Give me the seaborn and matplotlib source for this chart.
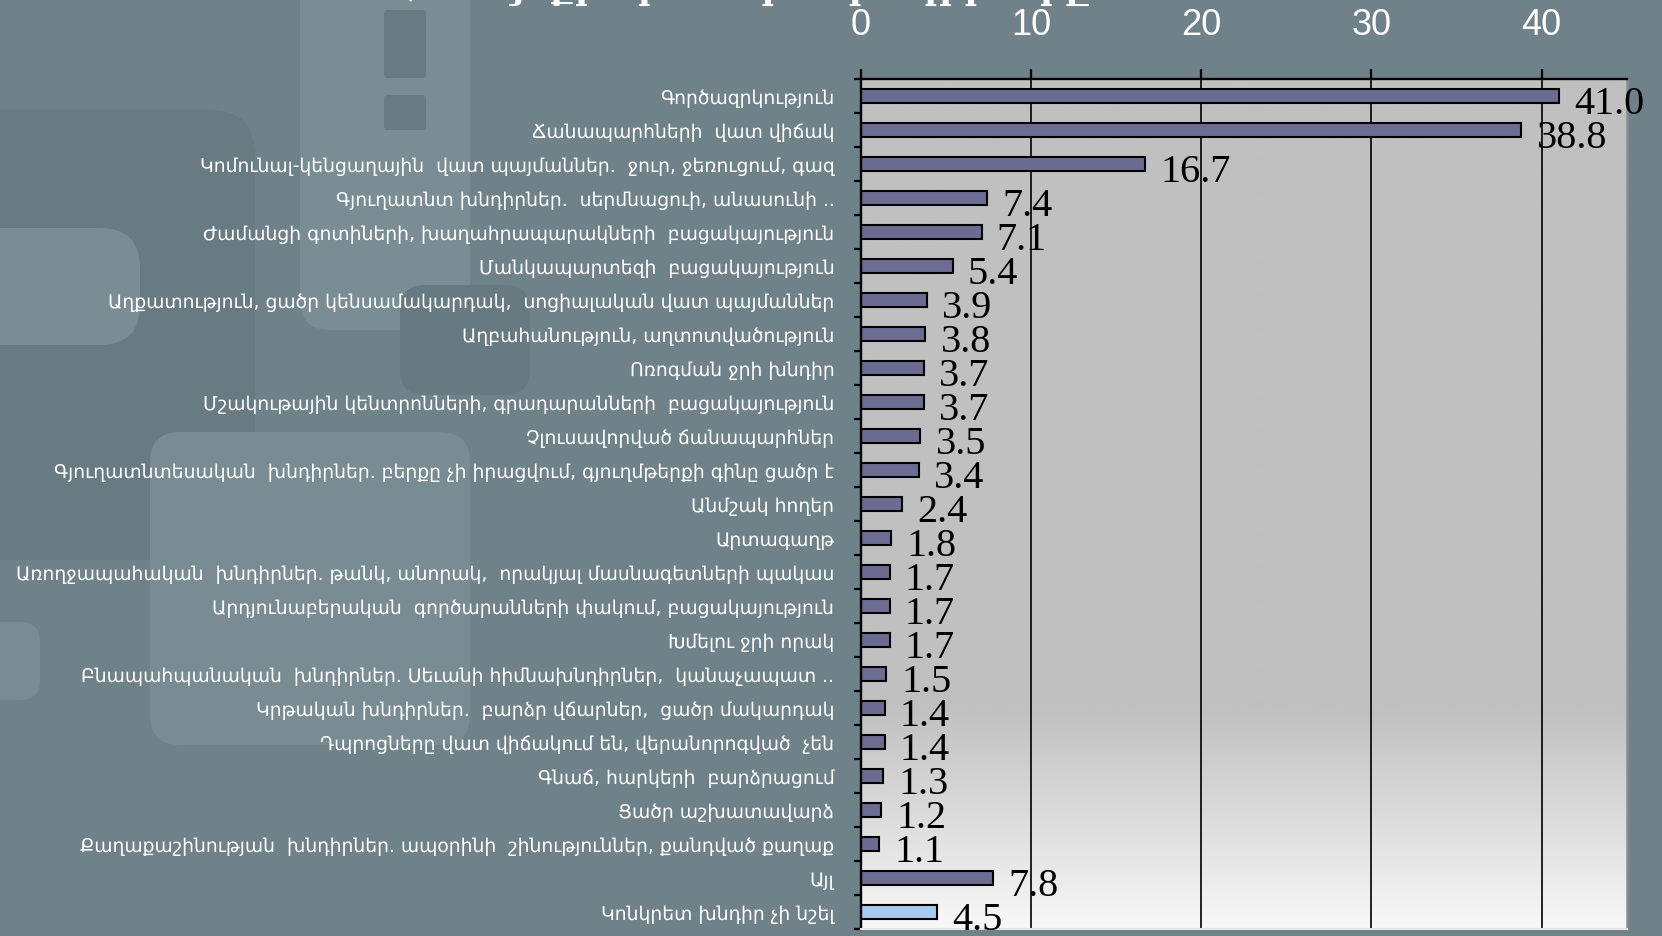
import numpy as np
import pandas as pd
import matplotlib
matplotlib.use("Agg")
import matplotlib.pyplot as plt
import seaborn as sns
from matplotlib.patches import FancyBboxPatch
from matplotlib.transforms import IdentityTransform

# data (percent)
categories = [
    "Գործազրկություն",
    "Ճանապարհների  վատ վիճակ",
    "Կոմունալ-կենցաղային  վատ պայմաններ.  ջուր, ջեռուցում, գազ",
    "Գյուղատնտ խնդիրներ.  սերմնացուի, անասունի ..",
    "Ժամանցի գոտիների, խաղահրապարակների  բացակայություն",
    "Մանկապարտեզի  բացակայություն",
    "Աղքատություն, ցածր կենսամակարդակ,  սոցիալական վատ պայմաններ",
    "Աղբահանություն, աղտոտվածություն",
    "Ոռոգման ջրի խնդիր",
    "Մշակութային կենտրոնների, գրադարանների  բացակայություն",
    "Չլուսավորված ճանապարհներ",
    "Գյուղատնտեսական  խնդիրներ. բերքը չի իրացվում, գյուղմթերքի գինը ցածր է",
    "Անմշակ հողեր",
    "Արտագաղթ",
    "Առողջապահական  խնդիրներ. թանկ, անորակ,  որակյալ մասնագետների պակաս",
    "Արդյունաբերական  գործարանների փակում, բացակայություն",
    "Խմելու ջրի որակ",
    "Բնապահպանական  խնդիրներ. Սեւանի հիմնախնդիրներ,  կանաչապատ ..",
    "Կրթական խնդիրներ.  բարձր վճարներ,  ցածր մակարդակ",
    "Դպրոցները վատ վիճակում են, վերանորոգված  չեն",
    "Գնաճ, հարկերի  բարձրացում",
    "Ցածր աշխատավարձ",
    "Քաղաքաշինության  խնդիրներ. ապօրինի  շինություններ, քանդված քաղաք",
    "Այլ",
    "Կոնկրետ խնդիր չի նշել",
]
values = [41.0, 38.8, 16.7, 7.4, 7.1, 5.4, 3.9, 3.8, 3.7, 3.7, 3.5, 3.4, 2.4,
          1.8, 1.7, 1.7, 1.7, 1.5, 1.4, 1.4, 1.3, 1.2, 1.1, 7.8, 4.5]
bar_colors = ["#666699"] * 24 + ["#99CCFF"]
xticks = [0, 10, 20, 30, 40]
title = "Համայնքի հիմնական խնդիրները"

df = pd.DataFrame({"problem": categories, "pct": values})

sns.set_style("white")
plt.rcParams["font.family"] = ["DejaVu Sans"]

W, H = 1662, 936
bg = "#6f8189"
fig = plt.figure(figsize=(W / 100, H / 100), dpi=100, facecolor=bg)


# background decoration (soft rounded blocks), pixel coords from top-left
def blob(x0, y0, x1, y1, color, r=30):
    p = FancyBboxPatch((x0, H - y1), x1 - x0, y1 - y0,
                       boxstyle=f"round,pad=0,rounding_size={r}",
                       transform=IdentityTransform(), facecolor=color,
                       edgecolor="none", zorder=-10)
    fig.add_artist(p)


blob(-60, 110, 255, 560, "#687a82", 45)
blob(300, -60, 470, 330, "#7a8c94", 30)
blob(384, 10, 426, 78, "#687a82", 4)
blob(384, 95, 426, 130, "#687a82", 4)
blob(-40, 228, 140, 345, "#7a8c94", 40)
blob(400, 285, 530, 395, "#677981", 25)
blob(150, 432, 470, 745, "#798b93", 30)
blob(-40, 622, 40, 700, "#798b93", 20)

# title, almost entirely cut off by the top edge
fig.text(0.445, 1 + 1 / H, title, ha="center", va="baseline", fontsize=25,
         fontweight="bold", color="white", family=["DejaVu Serif", "DejaVu Sans"])

ax = fig.add_axes([860.7 / W, 1 - 929.3 / H, (1626.7 - 860.7) / W, (929.3 - 79.3) / H])

# plot area gradient: flat grey, fading to white near the bottom
n = 400
t = np.linspace(0, 1, n)
k = np.clip((t - 0.74) / 0.26, 0, 1)
top_c = np.array([192, 192, 192]) / 255
bot_c = np.array([248, 248, 248]) / 255
grad = top_c + (bot_c - top_c) * k[:, None]
ax.imshow(grad[:, None, :], extent=[0, 45, len(values) - 0.5, -0.5],
          aspect="auto", zorder=0, interpolation="bilinear")

sns.barplot(data=df, x="pct", y="problem", hue="problem", palette=bar_colors,
            legend=False, width=0.42, edgecolor="black", linewidth=1.5,
            errorbar=None, orient="h", ax=ax, zorder=2)

ax.set_xlim(0, 45)
ax.set_ylim(len(values) - 0.5, -0.5)
ax.set_xlabel("")
ax.set_ylabel("")

# top axis
ax.xaxis.tick_top()
ax.set_xticks(xticks)
ax.set_xticklabels([str(v) for v in xticks], family="Liberation Sans")
ax.tick_params(axis="x", which="major", direction="out", length=7, width=1.6,
               color="black", labelcolor="white", labelsize=26, pad=19)
ax.grid(axis="x", color="black", linewidth=1.2)
ax.grid(axis="y", visible=False)
ax.set_axisbelow(True)

# category axis: labels on bars, ticks between categories
ax.set_yticks(range(len(categories)))
ax.set_yticklabels(categories)
ax.set_yticks(np.arange(-0.5, len(categories), 1), minor=True)
ax.tick_params(axis="y", which="major", length=0, pad=19, labelcolor="white",
               labelsize=13.5)
ax.tick_params(axis="y", which="minor", left=True, length=5, width=1.6,
               color="black", direction="out")

for side in ["left", "top"]:
    ax.spines[side].set_color("black")
    ax.spines[side].set_linewidth(1.7)
ax.spines["right"].set_color("#8c8c8c")
ax.spines["right"].set_linewidth(1.8)
ax.spines["bottom"].set_color("#e6e6e6")
ax.spines["bottom"].set_linewidth(1.5)

# value labels
for i, v in enumerate(values):
    ax.annotate(f"{v:.1f}", xy=(v, i), xytext=(11, -13), textcoords="offset points",
                ha="left", va="baseline", fontsize=29, family="Liberation Serif",
                color="black", annotation_clip=False)

fig.savefig("out.png", dpi=100, facecolor=fig.get_facecolor())
